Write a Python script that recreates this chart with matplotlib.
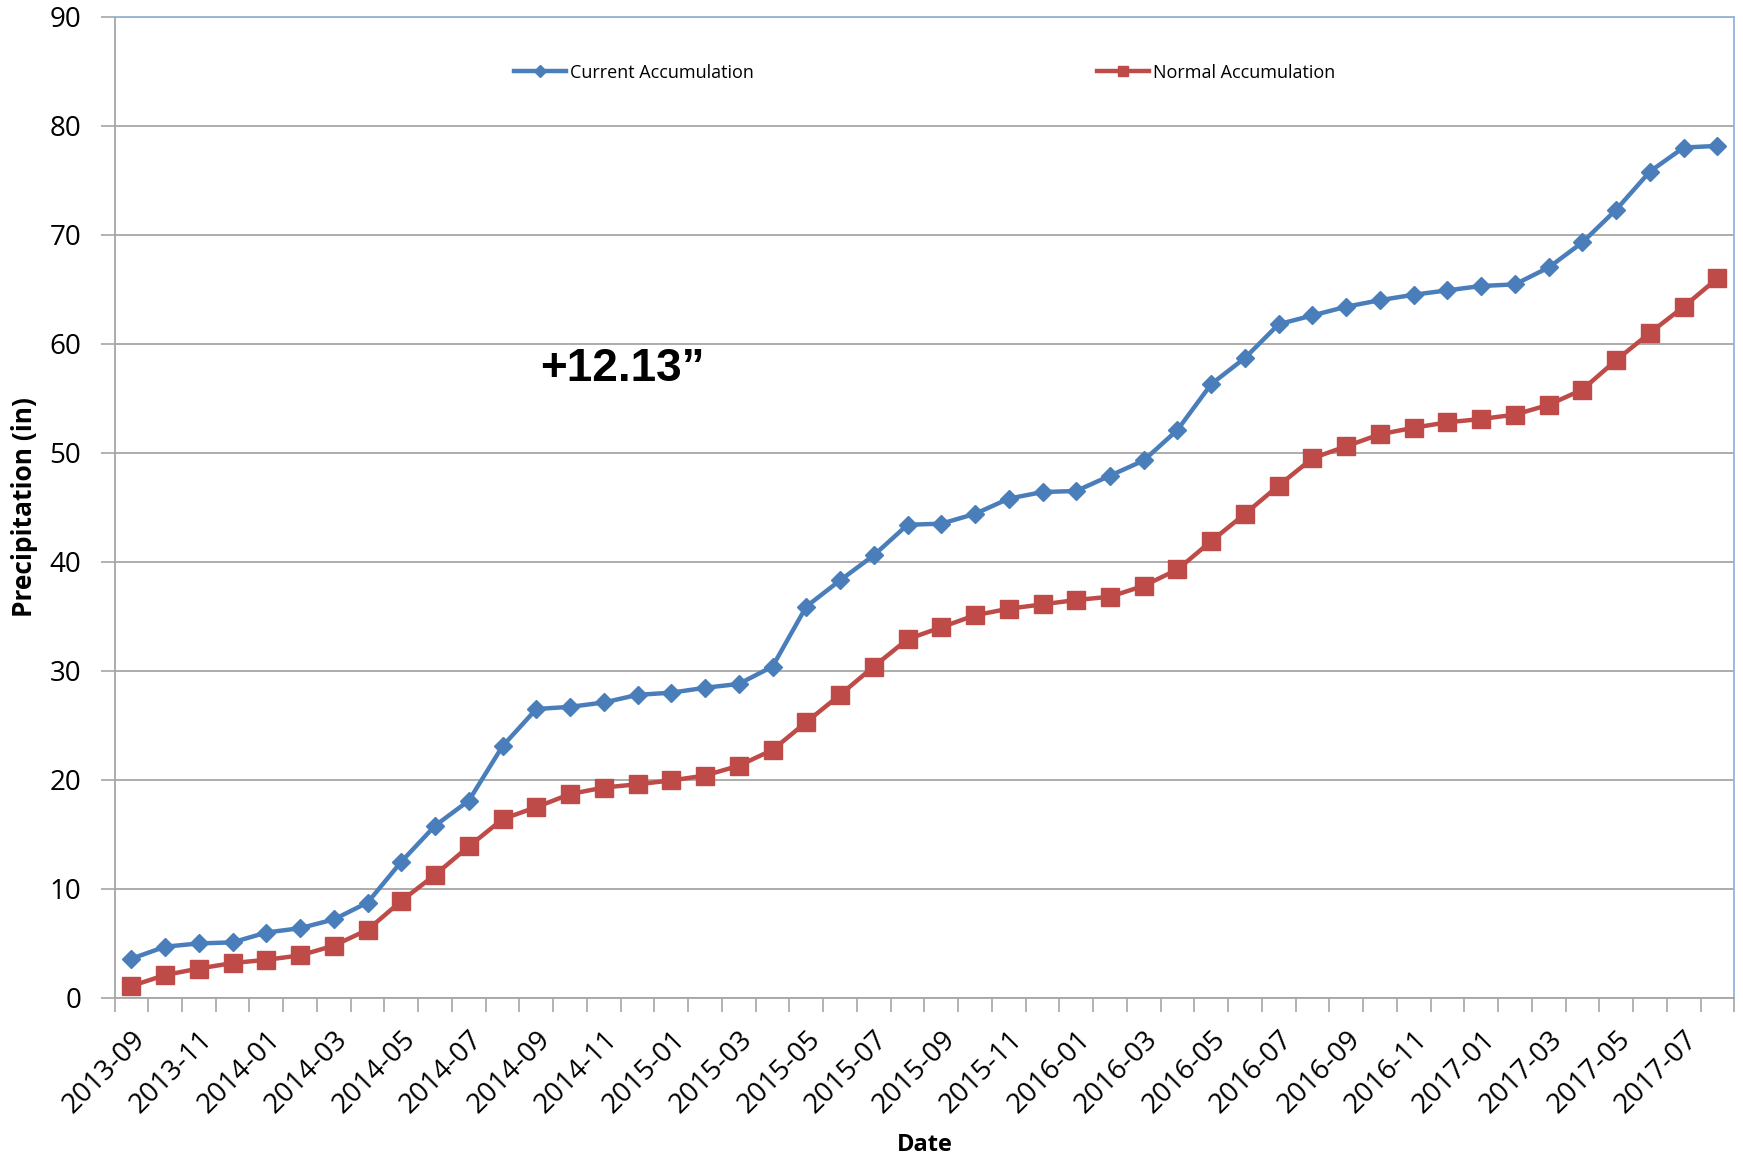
import matplotlib
matplotlib.use("Agg")
import matplotlib.pyplot as plt
import numpy as np

months = ["2013-09", "2013-10", "2013-11", "2013-12", "2014-01", "2014-02", "2014-03", "2014-04",
          "2014-05", "2014-06", "2014-07", "2014-08", "2014-09", "2014-10", "2014-11", "2014-12",
          "2015-01", "2015-02", "2015-03", "2015-04", "2015-05", "2015-06", "2015-07", "2015-08",
          "2015-09", "2015-10", "2015-11", "2015-12", "2016-01", "2016-02", "2016-03", "2016-04",
          "2016-05", "2016-06", "2016-07", "2016-08", "2016-09", "2016-10", "2016-11", "2016-12",
          "2017-01", "2017-02", "2017-03", "2017-04", "2017-05", "2017-06", "2017-07", "2017-08"]

current = [3.6, 4.7, 5.0, 5.1, 6.0, 6.4, 7.2, 8.75, 12.5, 15.8, 18.1, 23.1,
           26.5, 26.7, 27.1, 27.8, 28.0, 28.45, 28.8, 30.4, 35.9, 38.3, 40.6, 43.4,
           43.5, 44.4, 45.8, 46.4, 46.5, 47.9, 49.3, 52.1, 56.3, 58.7, 61.8, 62.6,
           63.4, 64.0, 64.5, 64.9, 65.3, 65.45, 67.0, 69.3, 72.3, 75.8, 78.0, 78.15]

normal = [1.1, 2.1, 2.7, 3.2, 3.5, 3.9, 4.8, 6.25, 8.9, 11.3, 13.9, 16.4,
          17.5, 18.7, 19.3, 19.6, 19.95, 20.4, 21.3, 22.75, 25.3, 27.8, 30.4, 32.9,
          34.0, 35.1, 35.7, 36.1, 36.5, 36.8, 37.8, 39.3, 41.9, 44.4, 47.0, 49.5,
          50.6, 51.7, 52.3, 52.8, 53.1, 53.5, 54.4, 55.8, 58.5, 61.0, 63.4, 66.0]

series_names = ["Current Accumulation", "Normal Accumulation"]
y_ticks = [0, 10, 20, 30, 40, 50, 60, 70, 80, 90]
annotation = "+12.13\u201d"

FONT = ["Open Sans", "DejaVu Sans"]
plt.rcParams["font.family"] = FONT

fig = plt.figure(figsize=(17.43, 11.60), dpi=100)
ax = fig.add_axes([0.0657, 0.1397, 0.9293, 0.8459])

x = np.arange(len(months))
ax.plot(x, current, color="#4a7ebb", lw=3.2, marker="D", ms=9.5,
        label=series_names[0], zorder=3)
ax.plot(x, normal, color="#be4b48", lw=3.2, marker="s", ms=13,
        label=series_names[1], zorder=3)

ax.set_xlim(-0.5, len(months) - 0.5)
ax.set_ylim(0, 90)
ax.set_yticks(y_ticks)
ax.set_yticklabels([str(v) for v in y_ticks], fontsize=20)
ax.yaxis.grid(True, color="#a6a6a6", lw=1.3)
ax.set_axisbelow(True)

# x ticks: labels every two months at category centres, tick marks at boundaries
ax.set_xticks(x[::2])
ax.set_xticklabels(months[::2], rotation=45, ha="right", rotation_mode="anchor",
                   fontsize=20)
ax.tick_params(axis="x", which="major", length=0, pad=20)
ax.set_xticks(np.arange(len(months) + 1) - 0.5, minor=True)
ax.tick_params(axis="x", which="minor", length=10, color="#a6a6a6", width=1.2)
ax.tick_params(axis="y", length=10, color="#a6a6a6", width=1.2, pad=14)

for side in ["left", "bottom"]:
    ax.spines[side].set_color("#a6a6a6")
    ax.spines[side].set_linewidth(1.3)
for side in ["top", "right"]:
    ax.spines[side].set_color("#95b3d7")
    ax.spines[side].set_linewidth(1.3)

ax.set_ylabel("Precipitation (in)", fontsize=19, fontweight="bold", labelpad=8)
ax.set_xlabel("Date", fontsize=17, fontweight="bold", labelpad=10)

ax.text(12.1, 57.7, annotation, fontsize=33, fontweight="bold",
        family=["Liberation Sans", "DejaVu Sans"], ha="left", va="center")

leg = ax.legend(loc="center", bbox_to_anchor=(0.5, 0.943), ncol=2, frameon=False,
                fontsize=13, handlelength=2.9, handletextpad=0.2,
                columnspacing=19.0, markerscale=0.6)

fig.savefig("out.png", dpi=100)
